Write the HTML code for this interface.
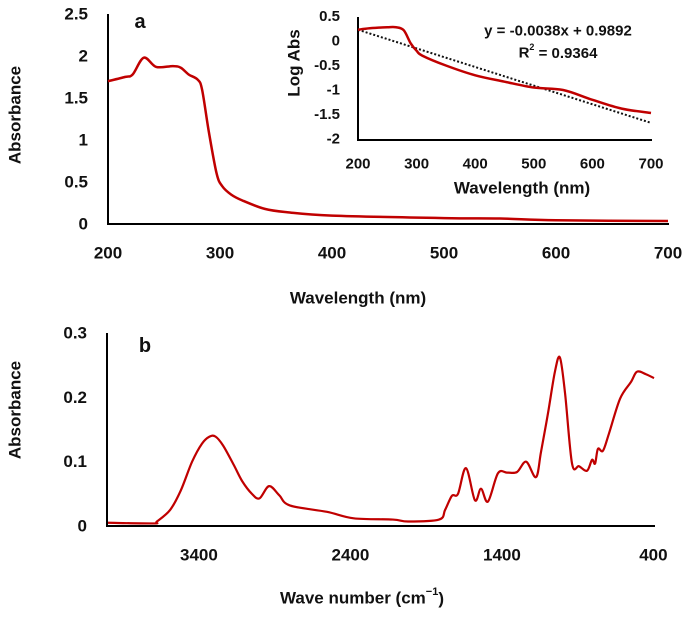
<!DOCTYPE html>
<html><head><meta charset="utf-8"><style>
html,body{margin:0;padding:0;background:#fff}
svg text{font-family:"Liberation Sans",sans-serif;font-weight:bold;fill:#111}
</style></head><body>
<svg id="chart" width="685" height="612" xmlns="http://www.w3.org/2000/svg"></svg>
<script>
// Panel a: UV-Vis absorbance
const aWave=[200,215,222,232,243,258,265,272,280,284,290,297,302,310,320,340,360,400,500,550,600,700];
const aAbs=[1.70,1.75,1.78,1.98,1.87,1.88,1.86,1.78,1.72,1.60,1.10,0.60,0.45,0.35,0.28,0.18,0.14,0.10,0.07,0.065,0.045,0.035];
const aYTicks=[0,0.5,1,1.5,2,2.5];
const aXTicks=[200,300,400,500,600,700];
// Inset: log absorbance
const insWave=[200,220,250,265,278,290,300,310,350,400,450,500,550,600,650,700];
const insLog=[0.23,0.26,0.28,0.28,0.22,-0.05,-0.2,-0.3,-0.5,-0.7,-0.83,-0.95,-1.0,-1.2,-1.38,-1.47];
const insSlope=-0.0038, insIntercept=0.9892;
const insYTicks=[0.5,0,-0.5,-1,-1.5,-2];
const insXTicks=[200,300,400,500,600,700];
// Panel b: FTIR
const bWn=[4000,3700,3677,3590,3520,3445,3380,3330,3290,3240,3170,3115,3050,3000,2937,2870,2800,2555,2378,2120,2020,1815,1775,1730,1690,1637,1578,1538,1492,1426,1366,1300,1240,1175,1142,1096,1050,1017,983,937,891,838,805,785,766,733,693,620,548,508,449,396];
const bAbs=[0.005,0.004,0.007,0.025,0.055,0.10,0.128,0.139,0.139,0.125,0.095,0.07,0.05,0.043,0.062,0.048,0.032,0.022,0.012,0.010,0.007,0.010,0.025,0.047,0.05,0.09,0.04,0.058,0.038,0.082,0.083,0.084,0.10,0.076,0.115,0.175,0.24,0.262,0.206,0.097,0.093,0.086,0.103,0.097,0.12,0.117,0.144,0.198,0.224,0.240,0.236,0.23];
const bYTicks=[0,0.1,0.2,0.3];
const bXTicks=[3400,2400,1400,400];

const svg=document.getElementById('chart');
const NS='http://www.w3.org/2000/svg';
function mk(tag,attrs,parent){const e=document.createElementNS(NS,tag);for(const k in attrs)e.setAttribute(k,attrs[k]);(parent||svg).appendChild(e);return e;}
function txt(s,x,y,size,anchor,parent){const t=mk('text',{x:x,y:y,'font-size':size,'text-anchor':anchor||'middle','dominant-baseline':'central'},parent);t.textContent=s;return t;}
function smooth(pts){let d='M'+pts[0][0]+','+pts[0][1];for(let i=0;i<pts.length-1;i++){const p0=pts[Math.max(i-1,0)],p1=pts[i],p2=pts[i+1],p3=pts[Math.min(i+2,pts.length-1)];const c1x=p1[0]+(p2[0]-p0[0])/6,c1y=p1[1]+(p2[1]-p0[1])/6,c2x=p2[0]-(p3[0]-p1[0])/6,c2y=p2[1]-(p3[1]-p1[1])/6;d+=' C'+c1x+','+c1y+' '+c2x+','+c2y+' '+p2[0]+','+p2[1];}return d;}

// ---- Panel a
const ax=v=>108+(v-200)*1.12, ay=v=>224-v*84;
const ga=mk('g',{});


let l=mk('line',{x1:108,y1:14,x2:108,y2:225,stroke:'#000','stroke-width':2},ga);

l=mk('line',{x1:107,y1:224,x2:669,y2:224,stroke:'#000','stroke-width':2},ga);

aYTicks.forEach(v=>{const t=txt(String(v),88,ay(v),17,'end',ga);});
aXTicks.forEach(v=>{const t=txt(String(v),ax(v),253,17,'middle',ga);});
let p=mk('path',{d:smooth(aWave.map((w,i)=>[ax(w),ay(aAbs[i])])),fill:'none',stroke:'#c00000','stroke-width':2.5,'stroke-linejoin':'round'},ga);

let t=txt('a',140,22,20,'middle',ga);
t=txt('Wavelength (nm)',358,298,17,'middle',ga);
t=txt('Absorbance',0,0,17,'middle',ga);t.setAttribute('transform','translate(15,115) rotate(-90)');

// ---- Inset
const ix=v=>358+(v-200)*0.586, iy=v=>41-v*49;
const gi=mk('g',{});


l=mk('line',{x1:358,y1:17,x2:358,y2:141,stroke:'#000','stroke-width':2},gi);

l=mk('line',{x1:357,y1:140,x2:652,y2:140,stroke:'#000','stroke-width':2},gi);

insYTicks.forEach(v=>{const tt=txt(String(v),340,iy(v),15,'end',gi);});
insXTicks.forEach(v=>{const tt=txt(String(v),ix(v),164,15,'middle',gi);});
l=mk('line',{x1:ix(200),y1:iy(insSlope*200+insIntercept),x2:ix(700),y2:iy(insSlope*700+insIntercept),stroke:'#111','stroke-width':2,'stroke-dasharray':'2 2'},gi);

p=mk('path',{d:smooth(insWave.map((w,i)=>[ix(w),iy(insLog[i])])),fill:'none',stroke:'#c00000','stroke-width':2.5,'stroke-linejoin':'round'},gi);

t=txt('y = -0.0038x + 0.9892',558,31,15,'middle',gi);
t=mk('text',{x:558,y:53,'font-size':15,'text-anchor':'middle','dominant-baseline':'central'},gi);
t.innerHTML='R<tspan font-size="9" dy="-6">2</tspan><tspan dy="6"> = 0.9364</tspan>';

t=txt('Wavelength (nm)',522,188,17,'middle',gi);
t=txt('Log Abs',0,0,17,'middle',gi);t.setAttribute('transform','translate(294,63) rotate(-90)');

// ---- Panel b
const bx=v=>108+(4000-v)*0.1515, by=v=>526-v*643;
const gb=mk('g',{});


l=mk('line',{x1:107,y1:333,x2:107,y2:527,stroke:'#000','stroke-width':2},gb);

l=mk('line',{x1:106,y1:526,x2:655,y2:526,stroke:'#000','stroke-width':2},gb);

bYTicks.forEach(v=>{const tt=txt(String(v),87,by(v),17,'end',gb);});
bXTicks.forEach(v=>{const tt=txt(String(v),bx(v),555,17,'middle',gb);});
p=mk('path',{d:smooth(bWn.map((w,i)=>[bx(w),by(bAbs[i])])),fill:'none',stroke:'#c00000','stroke-width':2.2,'stroke-linejoin':'round'},gb);

t=txt('b',145,346,20,'middle',gb);
t=mk('text',{x:362,y:598,'font-size':17,'text-anchor':'middle','dominant-baseline':'central'},gb);
t.innerHTML='Wave number (cm<tspan font-size="11" dy="-6">−1</tspan><tspan dy="6">)</tspan>';

t=txt('Absorbance',0,0,17,'middle',gb);t.setAttribute('transform','translate(15,410) rotate(-90)');
</script>
</body></html>
